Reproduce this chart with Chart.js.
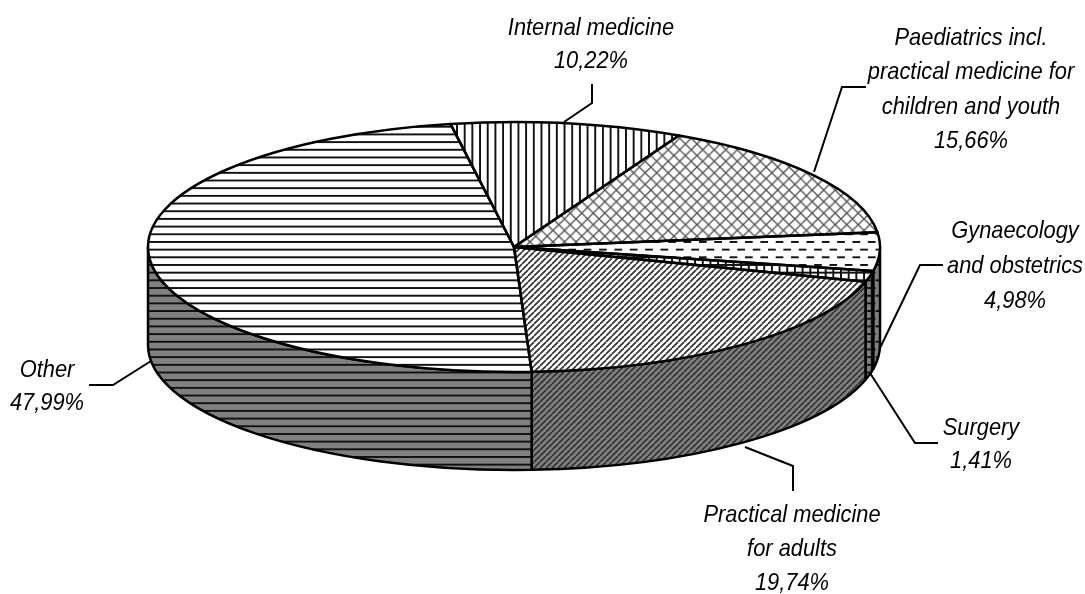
<!DOCTYPE html>
<html>
<head>
<meta charset="utf-8">
<title>Physicians by field</title>
<script src="https://cdn.jsdelivr.net/npm/chart.js@4"></script>
<style>
    html, body { margin: 0; padding: 0; background: #fff; }
    canvas { display: block; }
</style>
</head>
<body>
<canvas id="pie" width="1085" height="594"></canvas>
<script>
// Data
const categories = ['Internal medicine', 'Paediatrics', 'Gynaecology', 'Surgery', 'Adults', 'Other'];
const shares = [10.22, 15.66, 4.98, 1.41, 19.74, 47.99];
const labelLines = [
    ['Internal medicine'],
    ['Paediatrics incl.', 'practical medicine for', 'children and youth'],
    ['Gynaecology', 'and obstetrics'],
    ['Surgery'],
    ['Practical medicine', 'for adults'],
    ['Other']
];

// Look of the tilted pie
const disc = { x: 514, y: 247, rx: 366, ry: 125, depth: 98 };
const firstSliceAngle = -10;
const patternKinds = ['vertical', 'cross', 'dashes', 'grid', 'diagonal', 'horizontal'];
const labelLayout = [
    { x: 591, y: 35, step: 33, leader: [[564, 122], [592, 103], [592, 84]] },
    { x: 971, y: 45, step: 34.3, leader: [[814, 172], [842, 87], [866, 87]] },
    { x: 1015, y: 238, step: 35, leader: [[880, 348], [920, 265], [943, 265]] },
    { x: 981, y: 435, step: 33, leader: [[870, 373], [915, 443], [938, 443]] },
    { x: 792, y: 522, step: 34, leader: [[745, 447], [793, 466], [793, 491]] },
    { x: 47, y: 377, step: 33, leader: [[151, 361], [113, 385], [89, 385]] }
];

function tileScale(kind) {
    return kind === 'diagonal' ? 1 : 0.96;
}

function makeTile(kind, back) {
    const size = kind === 'diagonal' ? 6 : kind === 'cross' ? 12 : kind === 'dashes' ? 16 : 8;
    const tile = document.createElement('canvas');
    tile.width = size;
    tile.height = size;
    const c = tile.getContext('2d');
    c.fillStyle = back;
    c.fillRect(0, 0, size, size);
    c.strokeStyle = '#111';
    c.lineWidth = 2;
    const seg = (x1, y1, x2, y2) => {
        c.beginPath();
        c.moveTo(x1, y1);
        c.lineTo(x2, y2);
        c.stroke();
    };
    if (kind === 'vertical') {
        seg(4, 0, 4, 8);
    } else if (kind === 'horizontal') {
        seg(0, 4, 8, 4);
    } else if (kind === 'grid') {
        seg(4, 0, 4, 8);
        seg(0, 4, 8, 4);
    } else if (kind === 'dashes') {
        seg(0, 4, 8, 4);
        seg(8, 12, 16, 12);
    } else if (kind === 'diagonal') {
        c.lineWidth = 1.7;
        c.strokeStyle = '#333';
        for (let i = -size; i <= size; i += size) seg(i, size, i + size, 0);
    } else if (kind === 'cross') {
        c.strokeStyle = '#555';
        c.lineWidth = 1.4;
        for (let i = -size; i <= size; i += size) {
            seg(i, size, i + size, 0);
            seg(i, 0, i + size, size);
        }
    }
    return document.createElement('canvas').getContext('2d').createPattern(tile, 'repeat');
}

const topPatterns = patternKinds.map(kind => makeTile(kind, '#fff'));
const wallPatterns = patternKinds.map(kind => makeTile(kind, '#808080'));

// Side of the disc: only the part of a slice that faces the viewer
function drawWall(ctx, arc, pattern) {
    const turn = Math.PI * 2;
    let from = arc.startAngle;
    let to = arc.endAngle;
    if (to > turn) { from -= turn; to -= turn; }
    from = Math.max(from, 0);
    to = Math.min(to, Math.PI);
    if (to <= from) return;
    ctx.beginPath();
    ctx.ellipse(disc.x, disc.y, disc.rx, disc.ry, 0, from, to);
    ctx.ellipse(disc.x, disc.y + disc.depth, disc.rx, disc.ry, 0, to, from, true);
    ctx.closePath();
    ctx.fillStyle = pattern;
    ctx.fill();
    ctx.stroke();
}

const tiltPlugin = {
    id: 'tilt',
    beforeDatasetDraw(chart, args) {
        const ctx = chart.ctx;
        const arcs = chart.getDatasetMeta(args.index).data;
        ctx.save();
        ctx.strokeStyle = '#000';
        ctx.lineWidth = 2.5;
        ctx.lineJoin = 'round';
        arcs.forEach((arc, i) => {
            wallPatterns[i].setTransform(new DOMMatrix().scale(tileScale(patternKinds[i])));
            drawWall(ctx, arc, wallPatterns[i]);
        });
        ctx.restore();

        // squash the library's round pie into the top of the disc
        const first = arcs[0];
        const tilt = new DOMMatrix()
            .translate(disc.x, disc.y)
            .scale(disc.rx / first.outerRadius, disc.ry / first.outerRadius)
            .translate(-first.x, -first.y);
        topPatterns.forEach((p, i) => p.setTransform(tilt.inverse().scale(tileScale(patternKinds[i]))));
        ctx.save();
        ctx.setTransform(tilt);
    },
    afterDatasetDraw(chart, args) {
        const ctx = chart.ctx;
        ctx.restore();
        const arcs = chart.getDatasetMeta(args.index).data;
        ctx.save();
        ctx.strokeStyle = '#000';
        ctx.lineWidth = 2.5;
        ctx.lineJoin = 'round';
        arcs.forEach(arc => {
            ctx.beginPath();
            ctx.moveTo(disc.x, disc.y);
            ctx.ellipse(disc.x, disc.y, disc.rx, disc.ry, 0, arc.startAngle, arc.endAngle);
            ctx.closePath();
            ctx.stroke();
        });
        ctx.restore();
    },
    afterDraw(chart) {
        const ctx = chart.ctx;
        ctx.save();
        ctx.fillStyle = '#000';
        ctx.strokeStyle = '#000';
        ctx.lineWidth = 2;
        ctx.font = 'italic 24px "Liberation Sans"';
        ctx.textAlign = 'center';
        ctx.textBaseline = 'alphabetic';
        labelLayout.forEach((spot, i) => {
            const lines = labelLines[i].concat(shares[i].toFixed(2).replace('.', ',') + '%');
            lines.forEach((line, n) => {
                // the original type is a little narrower than Liberation
                ctx.save();
                ctx.translate(spot.x, spot.y + n * spot.step);
                ctx.scale(0.91, 1);
                ctx.fillText(line, 0, 0);
                ctx.restore();
            });
            ctx.beginPath();
            spot.leader.forEach(([x, y], n) => (n ? ctx.lineTo(x, y) : ctx.moveTo(x, y)));
            ctx.stroke();
        });
        ctx.restore();
    }
};

new Chart(document.getElementById('pie').getContext('2d'), {
    type: 'pie',
    data: {
        labels: categories,
        datasets: [{
            data: shares,
            backgroundColor: topPatterns,
            borderWidth: 0
        }]
    },
    options: {
        responsive: false,
        animation: false,
        rotation: firstSliceAngle,
        plugins: {
            legend: { display: false },
            tooltip: { enabled: false }
        }
    },
    plugins: [tiltPlugin]
});
</script>
</body>
</html>
